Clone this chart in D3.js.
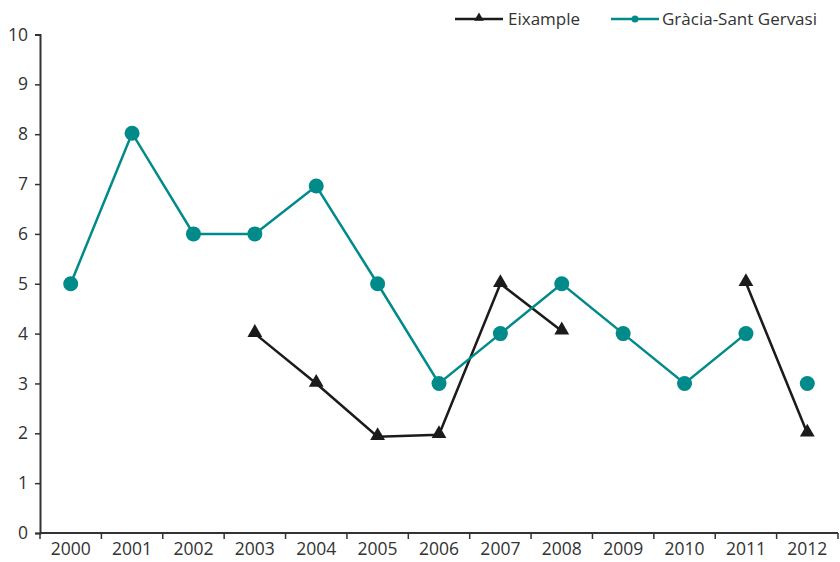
<!DOCTYPE html>
<html><head><meta charset="utf-8">
<script src="https://cdn.jsdelivr.net/npm/d3@7"></script>
<style>body{margin:0;background:#fff}svg{display:block;font-family:"Open Sans",sans-serif}</style>
</head><body><svg id="c" width="840" height="562"></svg>
<script>
const years = ["2000","2001","2002","2003","2004","2005","2006","2007","2008","2009","2010","2011","2012"];
const eixample = [null,null,null,4,3,1.93,1.97,5,4.05,null,null,5.02,2];
const gracia = [5,8.02,6,6,6.96,5,3,4,5,4,3,4,3];
const graciaLineBreaks = ["2012"]; // line not drawn into these years
const yTicks = [0,1,2,3,4,5,6,7,8,9,10];
const seriesNames = ["Eixample","Gràcia-Sant Gervasi"];
const colors = {"Eixample":"#1b1a1c","Gràcia-Sant Gervasi":"#008b8a"};

const svg = d3.select("#c");
const x = d3.scaleBand().domain(years).range([40,838]);
const y = d3.scaleLinear().domain([0,10]).range([533,34.5]);
const axisColor = "#333";

// y axis
const ya = svg.append("g").attr("transform","translate(40,0)")
  .call(d3.axisLeft(y).tickValues(yTicks).tickSize(5).tickPadding(7));
// x axis
const xa = svg.append("g").attr("transform","translate(0,533)")
  .call(d3.axisBottom(x).tickSize(0).tickPadding(10));
xa.selectAll(".tick text").attr("dy","0.71em");
// band boundary ticks
const bounds = years.map(d=>x(d)).concat([x.range()[1]]);
xa.selectAll("line.bt").data(bounds).enter().append("line").attr("class","bt")
  .attr("x1",d=>d).attr("x2",d=>d).attr("y1",0).attr("y2",6)
  .attr("stroke",axisColor).attr("stroke-width",1.5);
[ya,xa].forEach(g=>{
  g.select(".domain").attr("stroke",axisColor).attr("stroke-width",2);
  g.selectAll(".tick line").attr("stroke",axisColor).attr("stroke-width",1.5);
  g.selectAll(".tick text").attr("fill","#333").style("font-size","17.5px").style("font-family","'Open Sans',sans-serif");
});
xa.select(".domain").attr("d","M40,0H838");

const cx = d => x(d) + x.bandwidth()/2;

// Eixample line
const eData = years.map((d,i)=>({year:d,v:eixample[i]}));
svg.append("path").datum(eData)
  .attr("d", d3.line().defined(d=>d.v!=null).x(d=>cx(d.year)).y(d=>y(d.v)))
  .attr("fill","none").attr("stroke",colors["Eixample"]).attr("stroke-width",2.5);

// Gracia line (with breaks)
const gData = years.map((d,i)=>({year:d,v:gracia[i]}));
const segs = [];
let cur = [];
gData.forEach(d=>{
  if (graciaLineBreaks.includes(d.year) && cur.length){ segs.push(cur); cur=[]; }
  cur.push(d);
});
segs.push(cur);
svg.selectAll("path.gl").data(segs).enter().append("path").attr("class","gl")
  .attr("d", d3.line().x(d=>cx(d.year)).y(d=>y(d.v)))
  .attr("fill","none").attr("stroke",colors["Gràcia-Sant Gervasi"]).attr("stroke-width",2.5);

// markers
const tri = d3.symbol().type(d3.symbolTriangle).size(95);
svg.selectAll("path.et").data(eData.filter(d=>d.v!=null)).enter().append("path")
  .attr("d",tri).attr("transform",d=>`translate(${cx(d.year)},${y(d.v)-1})`)
  .attr("fill",colors["Eixample"]);
svg.selectAll("circle.gc").data(gData).enter().append("circle")
  .attr("cx",d=>cx(d.year)).attr("cy",d=>y(d.v)).attr("r",7.5)
  .attr("fill",colors["Gràcia-Sant Gervasi"]);

// legend
const leg = [{name:seriesNames[0],x:455,tx:508},{name:seriesNames[1],x:611,tx:662}];
leg.forEach(l=>{
  const g = svg.append("g");
  g.append("line").attr("x1",l.x).attr("x2",l.x+48).attr("y1",19).attr("y2",19)
    .attr("stroke",colors[l.name]).attr("stroke-width",2.5);
  if (l.name==="Eixample")
    g.append("path").attr("d",d3.symbol().type(d3.symbolTriangle).size(40)())
      .attr("transform",`translate(${l.x+24},18)`).attr("fill",colors[l.name]);
  else
    g.append("circle").attr("cx",l.x+24).attr("cy",19).attr("r",3.5).attr("fill",colors[l.name]);
  g.append("text").attr("x",l.tx).attr("y",25).text(l.name)
    .attr("fill","#333").style("font-size","17px");
});
</script></body></html>
